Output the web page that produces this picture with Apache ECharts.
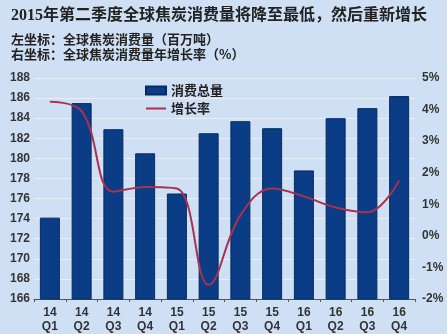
<!DOCTYPE html>
<html><head><meta charset="utf-8">
<script src="https://cdn.jsdelivr.net/npm/echarts@6/dist/echarts.min.js"></script>
<style>html,body{margin:0;padding:0;background:#cfe0f4;}#c{width:447px;height:334px;}</style>
</head><body><div id="c"></div>
<script>
const categories = ['14\nQ1','14\nQ2','14\nQ3','14\nQ4','15\nQ1','15\nQ2','15\nQ3','15\nQ4','16\nQ1','16\nQ2','16\nQ3','16\nQ4'];
const consumption = [174.1, 185.5, 182.9, 180.5, 176.5, 182.5, 183.7, 183.0, 178.8, 184.0, 185.0, 186.2];
const growthRate = [4.25, 3.95, 1.4, 1.55, 1.5, -1.55, 0.65, 1.5, 1.25, 0.9, 0.75, 1.75];
const titleText = '2015年第二季度全球焦炭消费量将降至最低，然后重新增长';
const subText = '左坐标：全球焦炭消费量（百万吨）\n右坐标：全球焦炭消费量年增长率（%）';

const chart = echarts.init(document.getElementById('c'));
const lblFont = {fontFamily:'Liberation Sans, Arial, sans-serif', fontWeight:'bold', fontSize:12, color:'#333'};
chart.setOption({
  backgroundColor:'#cfe0f4',
  animation:false,
  title:{
    text:titleText, subtext:subText, left:6, top:3, itemGap:8,
    textStyle:{fontFamily:'Liberation Serif, Noto Sans CJK SC', fontWeight:'bold', fontSize:16, color:'#222'},
    subtextStyle:{fontFamily:'Noto Sans CJK SC', fontWeight:'bold', fontSize:13, color:'#222', lineHeight:15}
  },
  legend:{
    orient:'vertical', left:140, top:79, itemWidth:20, itemHeight:8, itemGap:5,
    textStyle:{fontFamily:'Noto Sans CJK SC', fontWeight:'bold', fontSize:13, color:'#222'},
    data:[{name:'消费总量', icon:'rect'}, {name:'增长率', icon:'path://M0,0 L20,0 L20,2 L0,2 Z'}]
  },
  grid:{left:34, right:32, top:78, bottom:34},
  xAxis:{
    type:'category', data:categories,
    axisLine:{onZero:false, lineStyle:{color:'#555', width:1}},
    axisTick:{show:true, length:3, lineStyle:{color:'#555'}},
    axisLabel:Object.assign({margin:7, lineHeight:14}, lblFont)
  },
  yAxis:[
    {type:'value', min:166, max:188, interval:2,
     axisLine:{show:false}, axisTick:{show:false},
     axisLabel:Object.assign({margin:4}, lblFont),
     splitLine:{show:true, lineStyle:{color:'#e6effa', width:1}}},
    {type:'value', min:-2, max:5, interval:1,
     axisLine:{show:false}, axisTick:{show:false},
     axisLabel:Object.assign({margin:7, formatter:'{value}%'}, lblFont),
     splitLine:{show:false}}
  ],
  series:[
    {name:'消费总量', type:'bar', data:consumption, barWidth:20,
     itemStyle:{color:'#0b3c86', borderColor:'#062b62', borderWidth:1}},
    {name:'增长率', type:'line', yAxisIndex:1, data:growthRate, smooth:0.4,
     symbol:'none', lineStyle:{color:'#a8324f', width:2}, itemStyle:{color:'#a8324f'}}
  ]
});
</script></body></html>
